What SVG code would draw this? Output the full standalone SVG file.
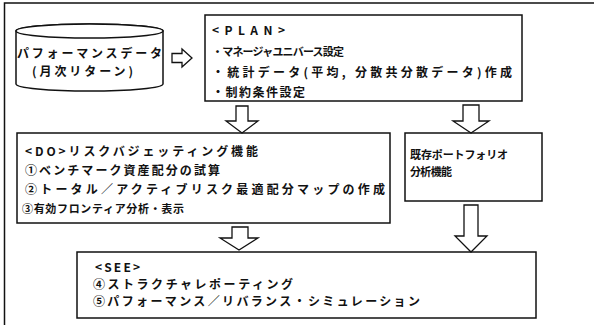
<svg xmlns="http://www.w3.org/2000/svg" width="594" height="325" viewBox="0 0 594 325">
<style>
.box{fill:#fff;stroke:#111;stroke-width:1.5}
.arr{fill:#fff;stroke:#111;stroke-width:1.3;stroke-linejoin:miter}
.t{font-family:"Noto Sans CJK JP","Noto Sans",sans-serif;font-weight:bold;font-size:12px;fill:#111;dominant-baseline:central}
.s{font-size:11px}
</style>
<rect width="594" height="325" fill="#fff"/>
<g id="frame"><path d="M4.5 325 V3 H594" fill="none" stroke="#111" stroke-width="1.5"/></g>
<g id="perfdata">
<path class="box" d="M16 31 V84 A73.5 7 0 0 0 163 84 V31 A73.5 7 0 0 0 16 31 Z"/>
<ellipse class="box" cx="89.5" cy="31" rx="73.5" ry="7"/>
<text class="t" x="17" y="52" textLength="145" lengthAdjust="spacing">パフォーマンスデータ</text>
<text class="t" x="32" y="70" textLength="101" lengthAdjust="spacing">(月次リターン)</text>
</g>
<g id="plan">
<rect class="box" x="205" y="15" width="317" height="86"/>
<text class="t" x="212" y="29" textLength="73" lengthAdjust="spacing">&lt;PLAN&gt;</text>
<text class="t s" x="212" y="51" textLength="132" lengthAdjust="spacing">・マネージャユニバース設定</text>
<text class="t" x="212" y="71" textLength="300" lengthAdjust="spacing">・統計データ(平均, 分散共分散データ)作成</text>
<text class="t" x="212" y="91" textLength="93" lengthAdjust="spacing">・制約条件設定</text>
</g>
<g id="do">
<rect class="box" x="17" y="133" width="373" height="90"/>
<text class="t" x="25" y="150" textLength="233" lengthAdjust="spacing">&lt;DO&gt;リスクバジェッティング機能</text>
<text class="t" x="25" y="169" textLength="195" lengthAdjust="spacing">①ベンチマーク資産配分の試算</text>
<text class="t" x="25" y="188" textLength="360" lengthAdjust="spacing">②トータル／アクティブリスク最適配分マップの作成</text>
<text class="t s" x="22" y="208" textLength="162" lengthAdjust="spacing">③有効フロンティア分析・表示</text>
</g>
<g id="existing">
<rect class="box" x="405" y="133" width="137" height="68"/>
<text class="t s" x="410" y="154" textLength="98" lengthAdjust="spacing">既存ポートフォリオ</text>
<text class="t s" x="410" y="171" textLength="42" lengthAdjust="spacing">分析機能</text>
</g>
<g id="see">
<rect class="box" x="77" y="252" width="459" height="66"/>
<text class="t" x="95" y="266" textLength="45" lengthAdjust="spacing">&lt;SEE&gt;</text>
<text class="t" x="93" y="283" textLength="200" lengthAdjust="spacing">④ストラクチャレポーティング</text>
<text class="t" x="93" y="300" textLength="327" lengthAdjust="spacing">⑤パフォーマンス／リバランス・シミュレーション</text>
</g>
<g id="connectors">
<path class="arr" d="M172 53.5 H182 V49 L192 58 L182 67 V62.5 H172 Z"/>
<path class="arr" d="M236 106 H248 V121 H258 L242 133 L226 121 H236 Z"/>
<path class="arr" d="M463 105 H479 V121 H489 L471 133 L453 121 H463 Z"/>
<path class="arr" d="M232 227 H248 V238 H258 L239 250 L220 238 H232 Z"/>
<path class="arr" d="M464 205 H478 V236 H487 L471 252 L455 236 H464 Z"/>
</g>
</svg>
